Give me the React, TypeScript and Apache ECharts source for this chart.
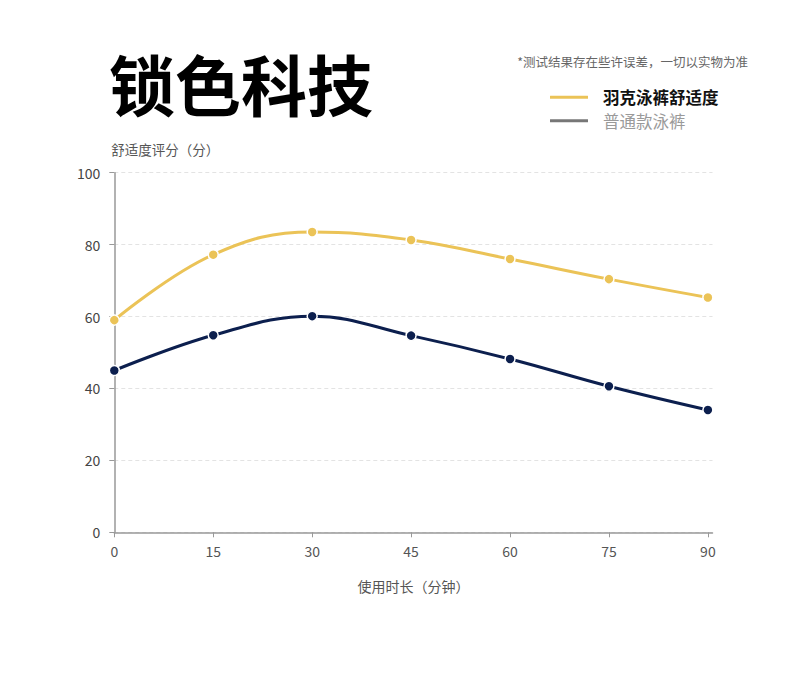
import React, { useEffect, useRef } from "react";
import * as echarts from "echarts";

const minutes = [0, 15, 30, 45, 60, 75, 90];
const xTickLabels = [0, 15, 30, 45, 60, 75, 90];
const yukeComfort = [59, 77.2, 83.5, 81.3, 76, 70.4, 65.3];
const normalComfort = [45, 54.8, 60.1, 54.7, 48.2, 40.6, 34];
const seriesNames = ["羽克泳裤舒适度", "普通款泳裤"];
const titleText = "锁色科技";
const noteText = "*测试结果存在些许误差，一切以实物为准";
const yAxisName = "舒适度评分（分）";
const xAxisName = "使用时长（分钟）";

const FONT = "Noto Sans CJK SC";

export default function App() {
  const ref = useRef<HTMLDivElement>(null);
  useEffect(() => {
    if (!ref.current) return;
    const chart = echarts.init(ref.current, null, { renderer: "svg" });
    const pair = (vals: number[]) => minutes.map((m, i) => [m, vals[i]]);
    chart.setOption({
      animation: false,
      backgroundColor: "#ffffff",
      textStyle: { fontFamily: FONT },
      graphic: [
        {
          type: "text",
          left: 109,
          top: 49,
          style: {
            text: titleText,
            fontSize: 66,
            fontWeight: "bold",
            fontFamily: FONT,
            fill: "#000000",
          },
        },
        {
          type: "text",
          right: 42,
          top: 55,
          style: {
            text: noteText,
            fontSize: 12.5,
            fontFamily: FONT,
            fill: "#666666",
          },
        },
      ],
      legend: {
        orient: "vertical",
        left: 548,
        top: 89,
        padding: 0,
        itemWidth: 40,
        itemHeight: 5,
        itemGap: 7,
        icon: "roundRect",
        selectedMode: false,
        data: [
          {
            name: seriesNames[0],
            itemStyle: { color: "#EBC357" },
            textStyle: { color: "#111111", fontWeight: "bold", fontSize: 16.5, padding: [0, 0, 0, 9] },
          },
          {
            name: seriesNames[1],
            itemStyle: { color: "#777777" },
            textStyle: { color: "#9a9a9a", fontSize: 16.5, padding: [0, 0, 0, 9] },
          },
        ],
        textStyle: { fontFamily: FONT, fontSize: 16.5 },
      },
      grid: { left: 114.3, right: 77.5, top: 172.7, bottom: 141.7, containLabel: false },
      xAxis: {
        type: "value",
        min: 0,
        max: 90.7,
        name: xAxisName,
        nameLocation: "middle",
        nameGap: 47,
        nameTextStyle: { color: "#555555", fontSize: 14, fontFamily: FONT },
        axisLine: { show: true, lineStyle: { color: "#999999", width: 1.5 } },
        axisTick: { show: true, length: 5, customValues: xTickLabels, lineStyle: { color: "#999999" } },
        axisLabel: { customValues: xTickLabels, color: "#555555", fontSize: 14, margin: 12, fontFamily: FONT },
        splitLine: { show: false },
      },
      yAxis: {
        type: "value",
        min: 0,
        max: 100,
        interval: 20,
        name: yAxisName,
        nameLocation: "end",
        nameGap: 24,
        nameTextStyle: { color: "#555555", fontSize: 13.5, align: "left", verticalAlign: "middle", padding: [0, 0, 0, -3], fontFamily: FONT },
        axisLine: { show: true, lineStyle: { color: "#999999", width: 1.5 } },
        axisTick: { show: true, length: 5, lineStyle: { color: "#999999" } },
        axisLabel: { color: "#444444", fontSize: 14, margin: 14, fontFamily: FONT },
        splitLine: { show: true, lineStyle: { color: "#e3e3e3", type: [4, 3], width: 1 } },
      },
      series: [
        {
          name: seriesNames[0],
          type: "line",
          data: pair(yukeComfort),
          smooth: 0.4,
          symbol: "circle",
          symbolSize: 10,
          color: "#EBC357",
          lineStyle: { color: "#EBC357", width: 3 },
          itemStyle: { color: "#EBC357", borderColor: "#ffffff", borderWidth: 1.5 },
          z: 3,
        },
        {
          name: seriesNames[1],
          type: "line",
          data: pair(normalComfort),
          smooth: 0.4,
          symbol: "circle",
          symbolSize: 10,
          color: "#0C1F4E",
          lineStyle: { color: "#0C1F4E", width: 3 },
          itemStyle: { color: "#0C1F4E", borderColor: "#ffffff", borderWidth: 1.5 },
          z: 3,
        },
      ],
    });
    return () => chart.dispose();
  }, []);
  return (
    <div
      ref={ref}
      style={{ position: "fixed", left: 0, top: 0, width: 790, height: 674, background: "#fff" }}
    />
  );
}
